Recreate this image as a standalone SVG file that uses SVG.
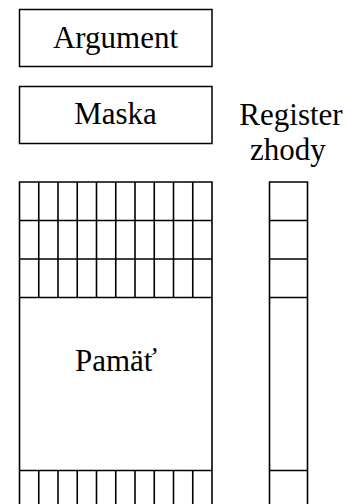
<svg xmlns="http://www.w3.org/2000/svg" width="350" height="504" viewBox="0 0 350 504">
<style>
.box{fill:#fff;stroke:#000;stroke-width:1.5}
.ln{stroke:#000;stroke-width:1.6;fill:none}
.t{font-family:"Liberation Serif","Times New Roman",serif;font-size:31px;fill:#000;text-anchor:middle}
</style>
<rect width="350" height="504" fill="#fff"/>
<g id="argument">
<rect class="box" x="19.5" y="9.5" width="192.5" height="57"/>
<text class="t" x="115.5" y="47.5">Argument</text>
</g>
<g id="maska">
<rect class="box" x="19.5" y="86.5" width="192.5" height="57"/>
<text class="t" x="115.5" y="124">Maska</text>
</g>
<g id="register-label">
<text class="t" x="291" y="125">Register</text>
<text class="t" x="288" y="160">zhody</text>
</g>
<g id="pamat">
<path class="ln" d="M19.5 510V182H212V510"/>
<path class="ln" d="M19.5 220.5H212M19.5 259H212M19.5 297.5H212M19.5 470.5H212"/>
<path class="ln" d="M38.75 182V297.5M58 182V297.5M77.25 182V297.5M96.5 182V297.5M115.75 182V297.5M135 182V297.5M154.25 182V297.5M173.5 182V297.5M192.75 182V297.5"/>
<path class="ln" d="M38.75 470.5V510M58 470.5V510M77.25 470.5V510M96.5 470.5V510M115.75 470.5V510M135 470.5V510M154.25 470.5V510M173.5 470.5V510M192.75 470.5V510"/>
<text class="t" x="116" y="371">Pamäť</text>
</g>
<g id="register">
<path class="ln" d="M269.5 510V182H307.5V510"/>
<path class="ln" d="M269.5 220.5H307.5M269.5 259H307.5M269.5 297.5H307.5M269.5 470.5H307.5"/>
</g>
<g id="connectors"/>
</svg>
